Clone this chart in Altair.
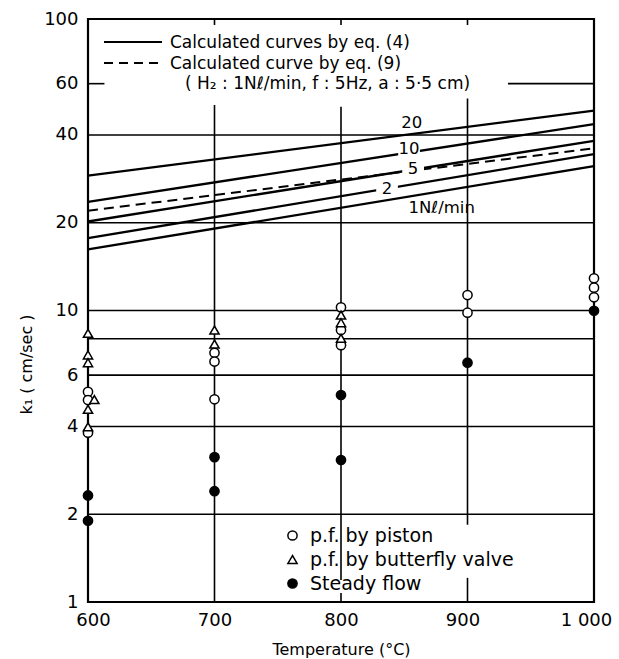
import altair as alt
import pandas as pd

FONT = "DejaVu Sans"

# ---------------- data ----------------
# Calculated curves by eq. (4): k1 at 600 and 1000 degC for each H2 flow rate (Nl/min)
flow_rates = ["1", "2", "5", "10", "20"]
temp_ends = [600, 1000]
k_at_600 = [16.2, 17.7, 20.2, 23.6, 29.0]
k_at_1000 = [31.3, 34.4, 38.2, 43.6, 48.5]

# Calculated curve by eq. (9)
eq9_k = [22.0, 36.0]

# curve labels
curve_label_text = ["20", "10", "5", "2", "1Nℓ/min"]
curve_label_T = [856, 853.8, 857, 836.4, 879.6]
curve_label_k = [44.1, 35.7, 30.6, 26.1, 22.4]
curve_label_gap = [False, True, True, True, False]

# measured points
series_names = ["p.f. by piston", "p.f. by butterfly valve", "Steady flow"]
piston_T = [600, 600, 600, 700, 700, 700, 800, 800, 800, 900, 900, 1000, 1000, 1000]
piston_k = [5.26, 4.93, 3.81, 7.16, 6.68, 4.96, 10.25, 8.57, 7.6, 11.3, 9.83, 12.9, 11.98, 11.1]
butterfly_T = [600, 600, 600, 605, 600, 600, 700, 700, 800, 800, 800]
butterfly_k = [8.35, 7.04, 6.62, 4.95, 4.58, 3.99, 8.57, 7.67, 9.65, 9.08, 8.03]
steady_T = [600, 600, 700, 700, 800, 800, 900, 1000]
steady_k = [2.32, 1.90, 3.14, 2.40, 5.13, 3.07, 6.62, 9.98]

# grid lines
h_grid_k = [2, 4, 6, 8, 10, 20, 40]
grid60_T1 = [600, 932]
grid60_T2 = [613, 1000]
v_grid_T = [700, 800, 800, 900, 900, 700, 800, 900]
v_grid_k1 = [50.7, 50.0, 1.074, 53.4, 1.21, 100, 100, 100]
v_grid_k2 = [1.0, 1.19, 1.0, 1.84, 1.0, 95.4, 95.4, 95.4]

x_ticks = [600, 700, 800, 900, 1000]
y_ticks = [1, 2, 4, 6, 10, 20, 40, 60, 100]

legend_lines = ["Calculated curves by eq. (4)", "Calculated curve by eq. (9)",
                "( H₂ : 1Nℓ/min,  f : 5Hz,  a : 5·5 cm)"]

# ---------------- tables ----------------
curve_rows = []
for f, k0, k1 in zip(flow_rates, k_at_600, k_at_1000):
    curve_rows.append({"flow": f, "T": temp_ends[0], "k": k0})
    curve_rows.append({"flow": f, "T": temp_ends[1], "k": k1})
curves_df = pd.DataFrame(curve_rows)
eq9_df = pd.DataFrame({"T": temp_ends, "k": eq9_k})
labels_df = pd.DataFrame({"txt": curve_label_text, "T": curve_label_T,
                          "k": curve_label_k, "gap": curve_label_gap})
points_df = pd.concat([
    pd.DataFrame({"T": piston_T, "k": piston_k, "series": series_names[0]}),
    pd.DataFrame({"T": butterfly_T, "k": butterfly_k, "series": series_names[1]}),
    pd.DataFrame({"T": steady_T, "k": steady_k, "series": series_names[2]}),
], ignore_index=True)
hgrid_df = pd.DataFrame({"k": h_grid_k, "T1": 600, "T2": 1000})
g60_df = pd.DataFrame({"k": 60, "T1": grid60_T1, "T2": grid60_T2})
vgrid_df = pd.DataFrame({"T": v_grid_T, "k1": v_grid_k1, "k2": v_grid_k2})

W, H = 506, 583

xscale = alt.Scale(domain=[600, 1000], nice=False, zero=False)
yscale = alt.Scale(type="log", domain=[1, 100], nice=False)

x_axis = alt.Axis(values=x_ticks, grid=False, ticks=False, domain=False,
                  labelFontSize=18, labelPadding=9, labelFont=FONT, labelFlush=False,
                  labelExpr="datum.value == 1000 ? '1 000' : datum.label",
                  labelOffset={"condition": [
                      {"test": "datum.value == 600", "value": 5},
                      {"test": "datum.value == 900", "value": -5},
                      {"test": "datum.value == 1000", "value": -8}], "value": 0},
                  title="Temperature  (°C)", titleFont=FONT, titleFontSize=16,
                  titleFontWeight="normal", titlePadding=12)
y_axis = alt.Axis(values=y_ticks, grid=False, ticks=False, domain=False,
                  labelFontSize=18, labelPadding=10, labelFont=FONT, format="d",
                  labelFlush=False,
                  title="k₁  ( cm/sec )", titleFont=FONT, titleFontSize=16,
                  titleFontWeight="normal", titleX=-62, titleY=345,
                  titleAngle=270, titleAlign="center", titleBaseline="middle")

hgrid = alt.Chart(hgrid_df).mark_rule(color="black", strokeWidth=1.6).encode(
    x=alt.X("T1:Q", scale=xscale, axis=x_axis),
    x2="T2:Q",
    y=alt.Y("k:Q", scale=yscale, axis=y_axis),
)
g60 = alt.Chart(g60_df).mark_rule(color="black", strokeWidth=1.6).encode(
    x="T1:Q", x2="T2:Q", y="k:Q")
vgrid = alt.Chart(vgrid_df).mark_rule(color="black", strokeWidth=1.6).encode(
    x="T:Q", y="k1:Q", y2="k2:Q")

curves = alt.Chart(curves_df).mark_line(color="black", strokeWidth=2.3).encode(
    x="T:Q", y="k:Q", detail="flow:N")
eq9 = alt.Chart(eq9_df).mark_line(color="black", strokeWidth=2.0,
                                  strokeDash=[10, 6]).encode(x="T:Q", y="k:Q")

# white blank behind the in-line labels (breaks the curves there)
gaps = alt.Chart(labels_df).transform_filter("datum.gap").mark_point(
    shape="M-1.5,-1H1.5V1H-1.5Z", size=210, filled=True, fill="white",
    strokeWidth=0, opacity=1).encode(x="T:Q", y="k:Q")
labels = alt.Chart(labels_df).mark_text(
    font=FONT, fontSize=16.5, color="black", baseline="middle", align="center"
).encode(x="T:Q", y="k:Q", text="txt:N")

pt_legend = alt.Legend(title=None, orient="none", legendX=195, legendY=507,
                       labelFont=FONT, labelFontSize=19, labelColor="black",
                       labelLimit=400, labelOffset=8, rowPadding=4,
                       symbolStrokeColor="black", symbolStrokeWidth=1.5,
                       symbolFillColor="white",
                       symbolSize=85, padding=0, symbolOpacity=1)
points = alt.Chart(points_df).mark_point(
    filled=True, stroke="black", strokeWidth=1.5, size=85, opacity=1
).encode(
    x="T:Q", y="k:Q",
    shape=alt.Shape("series:N", scale=alt.Scale(domain=series_names,
                    range=["circle", "triangle-up", "circle"]), legend=pt_legend),
    fill=alt.Fill("series:N", scale=alt.Scale(domain=series_names,
                  range=["white", "white", "black"]), legend=pt_legend),
)

# top-left legend for the calculated curves
leg_solid = alt.Chart(pd.DataFrame({"a": [0]})).mark_rule(
    color="black", strokeWidth=2).encode(
    x=alt.value(16), x2=alt.value(74), y=alt.value(23))
leg_dash = alt.Chart(pd.DataFrame({"a": [0]})).mark_rule(
    color="black", strokeWidth=2, strokeDash=[9, 6]).encode(
    x=alt.value(16), x2=alt.value(74), y=alt.value(44))
leg_text = alt.Chart(pd.DataFrame({
    "txt": legend_lines, "px": [82, 82, 97], "py": [24, 44.5, 65]})).mark_text(
    font=FONT, fontSize=17, color="black", align="left", baseline="middle"
).encode(x=alt.X("px:Q", scale=None), y=alt.Y("py:Q", scale=None), text="txt:N")

chart = alt.layer(hgrid, g60, vgrid, curves, eq9, gaps, labels, points,
                  leg_solid, leg_dash, leg_text).properties(
    width=W, height=H,
    autosize=alt.AutoSizeParams(type="none"),
    padding={"left": 88, "top": 19, "right": 25, "bottom": 57},
    background="white",
).configure_view(stroke="black", strokeWidth=2.2).configure_axis(
    labelColor="black", titleColor="black")

chart.save("out.html", embed_options={"renderer": "svg", "actions": False})
